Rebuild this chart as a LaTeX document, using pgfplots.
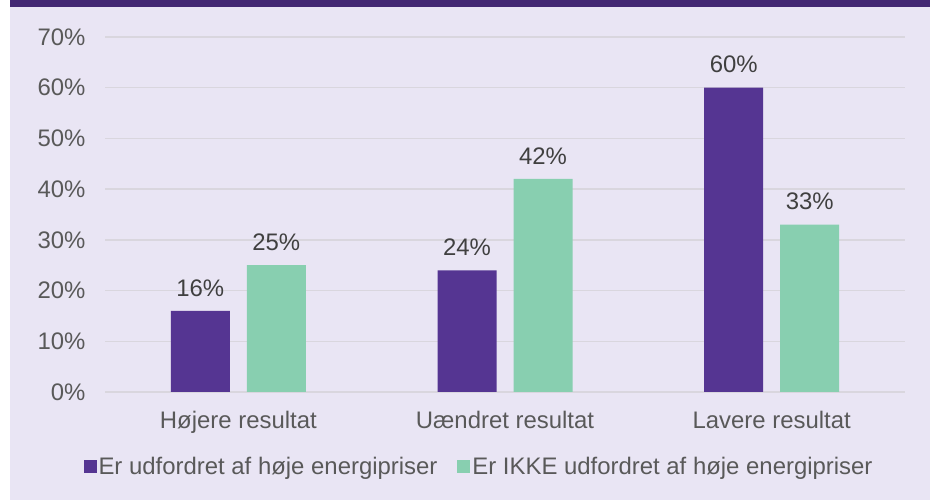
\documentclass[border=0pt]{standalone}
\usepackage{pgfplots}
\pgfplotsset{compat=1.18}
\usepackage{fontspec}
\setmainfont{Liberation Sans}
\definecolor{bgc}{HTML}{E9E5F4}
\definecolor{band}{HTML}{432873}
\definecolor{cpurple}{HTML}{553592}
\definecolor{cgreen}{HTML}{88CFB0}
\definecolor{gridc}{HTML}{D9D6DE}
\definecolor{txt}{HTML}{595959}
\definecolor{vtxt}{HTML}{404040}
\begin{document}
\begin{tikzpicture}[x=1bp,y=1bp]
\useasboundingbox (0,0) rectangle (930,500);
\fill[bgc] (10,0) rectangle (930,500);
\fill[band] (10,493) rectangle (930,500);
\begin{axis}[
  at={(105bp,108bp)}, anchor=south west,
  scale only axis, width=800bp, height=355bp,
  xmin=-0.5, xmax=2.5, ymin=0, ymax=70,
  axis line style={draw=none},
  ytick={0,10,...,70},
  ymajorgrids, grid style={gridc, line width=1.5bp},
  xtick={0,1,2},
  xticklabels={Højere resultat, Uændret resultat, Lavere resultat},
  x tick label style={font=\fontsize{24}{28}\selectfont, text=txt, yshift=-16bp},
  y tick label style={font=\fontsize{24}{28}\selectfont, text=txt, xshift=-16bp},
  yticklabel={\pgfmathprintnumber{\tick}\%},
  /pgf/number format/assume math mode=true,
  major tick length=0pt,
  ybar, bar width=59bp,
  nodes near coords={\pgfmathprintnumber{\pgfplotspointmeta}\%},
  nodes near coords style={font=\fontsize{24}{28}\selectfont, text=vtxt, yshift=11bp},
  clip=false,
  legend style={at={(0.4675,-0.21)}, anchor=center, draw=none, fill=none,
    font=\fontsize{24}{28}\selectfont, text=txt, legend columns=2,
    /tikz/every even column/.append style={column sep=18bp}},
  legend image code/.code={\fill[#1] (0bp,-6.5bp) rectangle (13bp,6.5bp);},
]
\addplot[fill=cpurple, draw=none, bar shift=-38bp] coordinates {(0,16) (1,24) (2,60)};
\addplot[fill=cgreen, draw=none, bar shift=38bp] coordinates {(0,25) (1,42) (2,33)};
\legend{Er udfordret af høje energipriser, Er IKKE udfordret af høje energipriser}
\end{axis}
\end{tikzpicture}
\end{document}
